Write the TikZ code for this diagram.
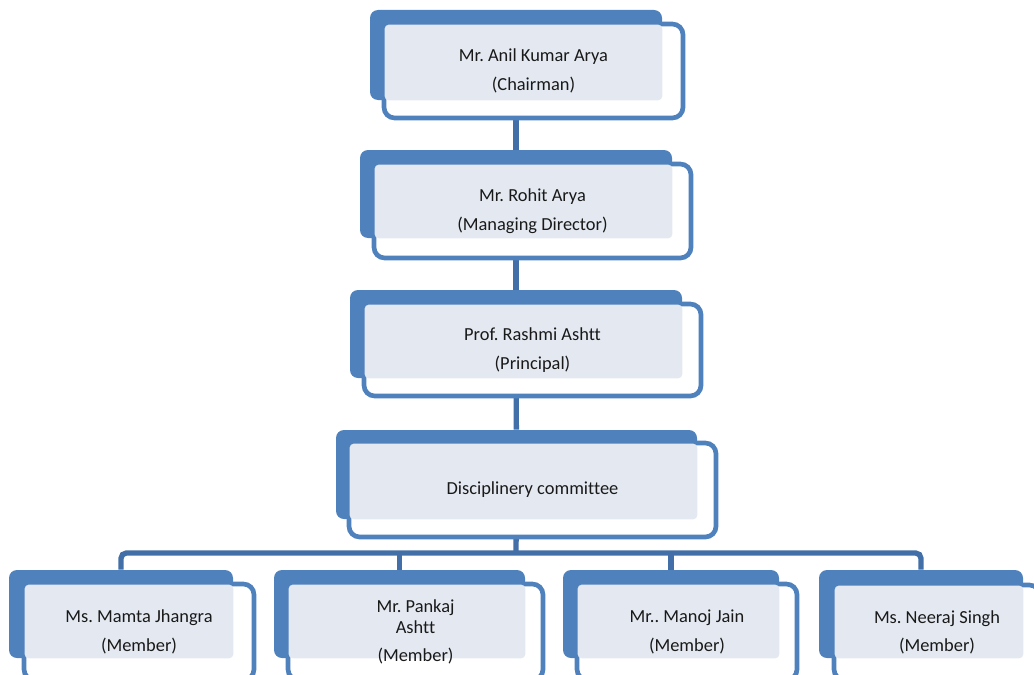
\documentclass[tikz,border=0pt]{standalone}
\usepackage{fontspec}
\setmainfont[Ligatures = {NoCommon, NoContextual}]{Carlito}
\frenchspacing
\usetikzlibrary{fit,backgrounds}

\definecolor{boxblue}{RGB}{79,129,189}
\definecolor{linkblue}{RGB}{66,111,168}
\definecolor{dotfill}{RGB}{228,233,241}

\tikzset{
	back/.style = {fill = boxblue, rounded corners = 6pt, inner sep = 0pt},
	front/.style = {draw = boxblue, line width = 3.5pt, fill = white, rounded corners = 8pt, inner sep = 0pt},
	dots/.style = {fill = dotfill, rounded corners = 3pt},
	label/.style = {align = center, text = black!90, font = \fontsize{13.8}{16}\selectfont},
	link/.style = {draw = linkblue, line width = 4pt}
}

\begin{document}
\begin{tikzpicture}[x = 0.75pt, y = -0.75pt]

	\clip (0, 0) rectangle (1034, 674);

	% Chairman

	\node [back, fit = {(370, 10) (662, 100)}] (chairB) {};
	\node [front, fit = {(384, 24) (683, 118)}] (chairF) {};
	\fill [dots] ([shift = {(3, 3)}] chairF.north west) rectangle (chairB.south east);
	\node [label] (chair) at (chairF) {Mr. Anil Kumar Arya\\[5.5pt](Chairman)};

	% Managing director

	\node [back, fit = {(360, 150) (672, 238)}] (mdB) {};
	\node [front, fit = {(374, 164) (691, 258)}] (mdF) {};
	\fill [dots] ([shift = {(3, 3)}] mdF.north west) rectangle (mdB.south east);
	\node [label] (md) at (mdF) {Mr. Rohit Arya\\[5.5pt](Managing Director)};

	% Principal

	\node [back, fit = {(350, 290) (682, 378)}] (prB) {};
	\node [front, fit = {(364, 304) (701, 396)}] (prF) {};
	\fill [dots] ([shift = {(3, 3)}] prF.north west) rectangle (prB.south east);
	\node [label] (pr) at (prF) {Prof. Rashmi Ashtt\\[5.5pt](Principal)};

	% Committee

	\node [back, fit = {(336, 430) (697, 519)}] (dcB) {};
	\node [front, fit = {(349, 443) (716, 537)}] (dcF) {};
	\fill [dots] ([shift = {(3, 3)}] dcF.north west) rectangle (dcB.south east);
	\node [label] (dc) at (dcF) {Disciplinery committee};

	% Members

	\node [back, fit = {(9, 570) (233, 658)}] (m1B) {};
	\node [front, fit = {(24, 584) (254, 680)}] (m1F) {};
	\fill [dots] ([shift = {(3, 3)}] m1F.north west) rectangle (m1B.south east);
	\node [label] (m1) at (m1F) {Ms. Mamta Jhangra\\[5.5pt](Member)};

	\node [back, fit = {(274, 570) (525, 658)}] (m2B) {};
	\node [front, fit = {(288, 584) (543, 680)}] (m2F) {};
	\fill [dots] ([shift = {(3, 3)}] m2F.north west) rectangle (m2B.south east);
	\node [label] (m2) at (m2F) {Mr. Pankaj\\Ashtt\\[5pt](Member)};

	\node [back, fit = {(563, 570) (779, 658)}] (m3B) {};
	\node [front, fit = {(577, 584) (797, 680)}] (m3F) {};
	\fill [dots] ([shift = {(3, 3)}] m3F.north west) rectangle (m3B.south east);
	\node [label] (m3) at (m3F) {Mr.. Manoj Jain\\[5.5pt](Member)};

	\node [back, fit = {(819, 570) (1023, 658)}] (m4B) {};
	\node [front, fit = {(834, 585) (1040, 680)}] (m4F) {};
	\fill [dots] ([shift = {(3, 3)}] m4F.north west) rectangle (m4B.south east);
	\node [label] (m4) at (m4F) {Ms. Neeraj Singh\\[5.5pt](Member)};

	% Connectors

	\begin{scope}[on background layer]
		\draw [link] (chairB) -- (mdB);
		\draw [link] (mdB) -- (prB);
		\draw [link] (prB) -- (dcB);

		\coordinate (bus) at (516, 553);
		\draw [link] (dcB) -- (bus);
		\draw [link, rounded corners = 4pt] (m1B.north) -- (m1B.north |- bus) -- (m4B.north |- bus) -- (m4B.north);
		\draw [link] (m2B.north) -- (m2B.north |- bus);
		\draw [link] (m3B.north) -- (m3B.north |- bus);
	\end{scope}

\end{tikzpicture}
\end{document}
